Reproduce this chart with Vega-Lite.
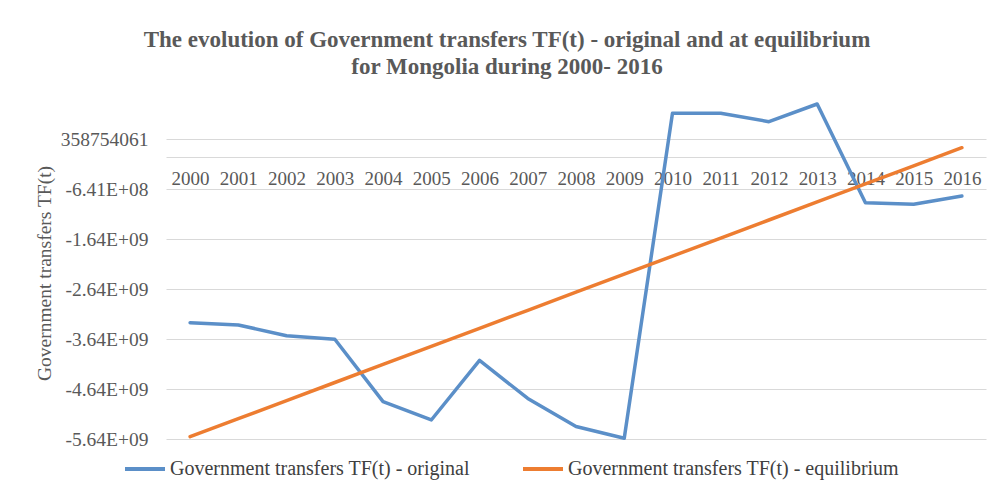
{
  "$schema": "https://vega.github.io/schema/vega-lite/v6.json",
  "width": 820,
  "height": 350,
  "autosize": {"type": "none"},
  "padding": {"left": 166, "top": 89, "right": 12, "bottom": 63},
  "background": "white",
  "config": {"view": {"stroke": null}, "font": "Liberation Serif"},
  "title": {
    "text": ["The evolution of Government transfers TF(t) - original and at equilibrium", "for Mongolia during  2000- 2016"],
    "font": "Liberation Serif",
    "fontSize": 23,
    "fontWeight": "bold",
    "color": "#595959",
    "anchor": "middle",
    "dx": -69,
    "lineHeight": 27,
    "offset": 10
  },
  "data": {
    "values": [
      {"year": "2000", "series": "Government transfers TF(t) - original", "value": -3315000000},
      {"year": "2001", "series": "Government transfers TF(t) - original", "value": -3361000000},
      {"year": "2002", "series": "Government transfers TF(t) - original", "value": -3575000000},
      {"year": "2003", "series": "Government transfers TF(t) - original", "value": -3647000000},
      {"year": "2004", "series": "Government transfers TF(t) - original", "value": -4895000000},
      {"year": "2005", "series": "Government transfers TF(t) - original", "value": -5261000000},
      {"year": "2006", "series": "Government transfers TF(t) - original", "value": -4070000000},
      {"year": "2007", "series": "Government transfers TF(t) - original", "value": -4830000000},
      {"year": "2008", "series": "Government transfers TF(t) - original", "value": -5390000000},
      {"year": "2009", "series": "Government transfers TF(t) - original", "value": -5627000000},
      {"year": "2010", "series": "Government transfers TF(t) - original", "value": 873000000},
      {"year": "2011", "series": "Government transfers TF(t) - original", "value": 873000000},
      {"year": "2012", "series": "Government transfers TF(t) - original", "value": 705000000},
      {"year": "2013", "series": "Government transfers TF(t) - original", "value": 1059000000},
      {"year": "2014", "series": "Government transfers TF(t) - original", "value": -915000000},
      {"year": "2015", "series": "Government transfers TF(t) - original", "value": -947000000},
      {"year": "2016", "series": "Government transfers TF(t) - original", "value": -781000000},
      {"year": "2000", "series": "Government transfers TF(t) - equilibrium", "value": -5595000000},
      {"year": "2001", "series": "Government transfers TF(t) - equilibrium", "value": -5234000000},
      {"year": "2002", "series": "Government transfers TF(t) - equilibrium", "value": -4873000000},
      {"year": "2003", "series": "Government transfers TF(t) - equilibrium", "value": -4511000000},
      {"year": "2004", "series": "Government transfers TF(t) - equilibrium", "value": -4150000000},
      {"year": "2005", "series": "Government transfers TF(t) - equilibrium", "value": -3789000000},
      {"year": "2006", "series": "Government transfers TF(t) - equilibrium", "value": -3428000000},
      {"year": "2007", "series": "Government transfers TF(t) - equilibrium", "value": -3067000000},
      {"year": "2008", "series": "Government transfers TF(t) - equilibrium", "value": -2705000000},
      {"year": "2009", "series": "Government transfers TF(t) - equilibrium", "value": -2344000000},
      {"year": "2010", "series": "Government transfers TF(t) - equilibrium", "value": -1983000000},
      {"year": "2011", "series": "Government transfers TF(t) - equilibrium", "value": -1622000000},
      {"year": "2012", "series": "Government transfers TF(t) - equilibrium", "value": -1261000000},
      {"year": "2013", "series": "Government transfers TF(t) - equilibrium", "value": -899000000},
      {"year": "2014", "series": "Government transfers TF(t) - equilibrium", "value": -538000000},
      {"year": "2015", "series": "Government transfers TF(t) - equilibrium", "value": -177000000},
      {"year": "2016", "series": "Government transfers TF(t) - equilibrium", "value": 185000000}
    ]
  },
  "mark": {"type": "line", "strokeWidth": 3.5, "strokeCap": "round", "strokeJoin": "round"},
  "encoding": {
    "x": {
      "field": "year",
      "type": "ordinal",
      "scale": {"type": "point", "padding": 0.5},
      "axis": {
        "orient": "bottom",
        "offset": -282,
        "title": null,
        "labelAngle": 0,
        "labelFont": "Liberation Serif",
        "labelFontSize": 19,
        "labelColor": "#595959",
        "labelPadding": 12,
        "ticks": false,
        "domainColor": "#d9d9d9",
        "domainWidth": 1,
        "grid": false,
        "zindex": 0
      }
    },
    "y": {
      "field": "value",
      "type": "quantitative",
      "scale": {"domain": [-5641245939, 1358754061], "nice": false, "zero": false},
      "axis": {
        "title": "Government transfers TF(t)",
        "titleFont": "Liberation Serif",
        "titleFontSize": 19.5,
        "titleFontWeight": "normal",
        "titleColor": "#595959",
        "titlePadding": 6,
        "titleY": 184,
        "values": [358754061, -641245939, -1641245939, -2641245939, -3641245939, -4641245939, -5641245939],
        "labelExpr": "datum.value == 358754061 ? '358754061' : (datum.value < -1e9 ? '-' + format(abs(datum.value)/1e9, '.2f') + 'E+09' : '-' + format(abs(datum.value)/1e8, '.2f') + 'E+08')",
        "labelFont": "Liberation Serif",
        "labelFontSize": 19.5,
        "labelColor": "#595959",
        "labelPadding": 18,
        "ticks": false,
        "domain": false,
        "grid": true,
        "gridColor": "#d9d9d9",
        "gridWidth": 1
      }
    },
    "color": {
      "field": "series",
      "type": "nominal",
      "sort": ["Government transfers TF(t) - original", "Government transfers TF(t) - equilibrium"],
      "scale": {"domain": ["Government transfers TF(t) - original", "Government transfers TF(t) - equilibrium"], "range": ["#5B8FC8", "#ED7D31"]},
      "legend": {
        "title": null,
        "orient": "none",
        "direction": "horizontal",
        "legendX": -43,
        "legendY": 358,
        "symbolType": "stroke",
        "symbolSize": 1600,
        "symbolStrokeWidth": 4,
        "labelFont": "Liberation Serif",
        "labelFontSize": 20,
        "labelColor": "#404040",
        "labelLimit": 400,
        "labelOffset": 3,
        "columnPadding": 45
      }
    }
  }
}
